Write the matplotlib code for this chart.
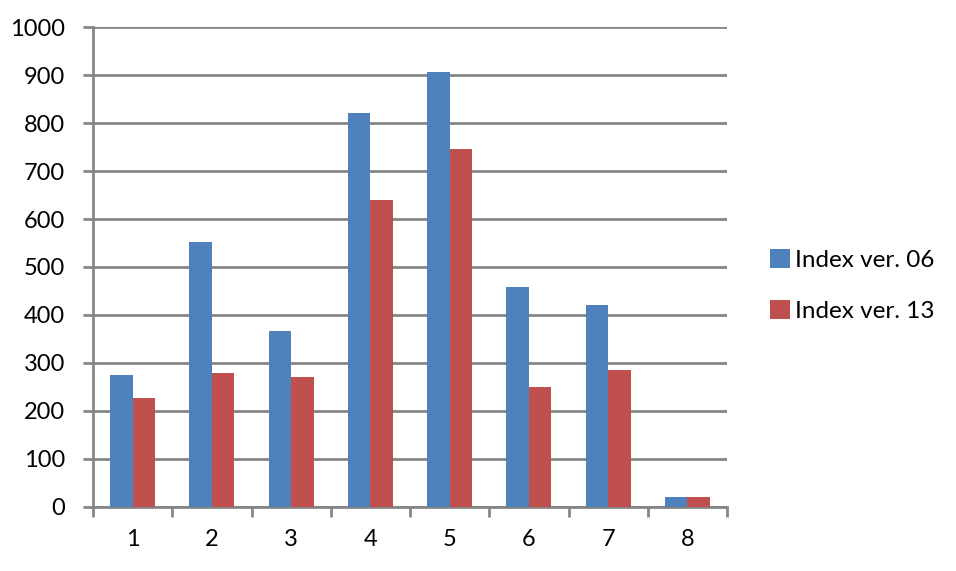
import numpy as np
import matplotlib.pyplot as plt

# -----------------------------
# Data
# -----------------------------
categories = ["1", "2", "3", "4", "5", "6", "7", "8"]
index_v06 = [274, 552, 367, 820, 906, 458, 421, 20]
index_v13 = [228, 280, 271, 639, 745, 250, 285, 20]
y_ticks = [0, 100, 200, 300, 400, 500, 600, 700, 800, 900, 1000]

BLUE = "#4F81BD"
RED = "#C0504D"
GRID = "#868686"

plt.rcParams["font.family"] = ["Lato", "DejaVu Sans"]

fig = plt.figure(figsize=(9.56, 5.71), dpi=100)
ax = fig.add_axes([0.0973, 0.1121, 0.6632, 0.8406])

x = np.arange(len(categories))
w = 0.285
ax.bar(x - w / 2, index_v06, width=w, color=BLUE, label="Index ver. 06", zorder=3)
ax.bar(x + w / 2, index_v13, width=w, color=RED, label="Index ver. 13", zorder=3)

ax.set_xlim(-0.5, len(categories) - 0.5)
ax.set_ylim(0, 1000)
ax.set_yticks(y_ticks)
ax.set_yticklabels([str(v) for v in y_ticks], fontsize=17)

# category labels centred, tick marks at boundaries
ax.set_xticks(x)
ax.set_xticklabels(categories, fontsize=17)
ax.set_xticks(np.arange(-0.5, len(categories)), minor=True)
ax.tick_params(axis="x", which="major", length=0, pad=16)
ax.tick_params(axis="x", which="minor", length=7, width=2, color=GRID)
ax.tick_params(axis="y", length=7, width=2, color=GRID, pad=13)

ax.grid(axis="y", color=GRID, linewidth=2, zorder=0)
for side in ["top", "right"]:
    ax.spines[side].set_visible(False)
for side in ["left", "bottom"]:
    ax.spines[side].set_color(GRID)
    ax.spines[side].set_linewidth(2)

fig.legend(loc="center left", bbox_to_anchor=(0.805, 0.5), frameon=False,
           fontsize=17.5, handlelength=0.85, handleheight=0.85, handletextpad=0.2,
           labelspacing=1.2, borderpad=0, borderaxespad=0)

fig.savefig("out.png", dpi=100)
